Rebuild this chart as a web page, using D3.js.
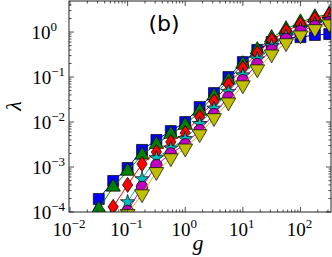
<!DOCTYPE html>
<head>
<script src="https://d3js.org/d3.v7.min.js"></script>
<style>
  body { margin: 0; background: #fff; }
  text { font-family: "Liberation Serif", serif; fill: #000; }
</style>
</head>
<body>
<svg width="332" height="257"></svg>
<script>
// coupling values g = 10^(k/4)
const gValues = [0.0178, 0.0316, 0.0562, 0.1, 0.178, 0.316, 0.562, 1, 1.78, 3.16, 5.62, 10, 17.8, 31.6, 56.2, 100, 178, 316]

const blueSq   = [4.2e-5, 1.95e-4, 4.9e-4, 9.5e-4, 2.4e-3, 4.0e-3, 6.3e-3, 1.0e-2, 2.15e-2, 4.4e-2, 0.1, 0.215, 0.4, 0.6, 0.74, 0.77, 0.86, 0.9]
const greenTri = [2.5e-5, 1.17e-4, 3.6e-4, 8.1e-4, 1.85e-3, 3.2e-3, 5.4e-3, 8.5e-3, 1.75e-2, 3.8e-2, 8.5e-2, 0.195, 0.4, 0.74, 1.17, 1.66, 2.15, 2.5]
const redDia   = [1.5e-5, 3.6e-5, 1.3e-4, 4.0e-4, 1.17e-3, 2.15e-3, 3.6e-3, 5.7e-3, 1.3e-2, 2.9e-2, 6.9e-2, 0.158, 0.34, 0.66, 1.05, 1.5, 1.95, 2.4]
const cyanStar = [5e-6, 1.5e-5, 4.9e-5, 1.66e-4, 5.4e-4, 1.58e-3, 2.6e-3, 4.2e-3, 9.1e-3, 2.0e-2, 4.7e-2, 0.11, 0.25, 0.49, 0.81, 1.17, 1.5, 1.86]
const magCirc  = [3e-6, 9e-6, 3.1e-5, 1.05e-4, 3.6e-4, 1.1e-3, 2.0e-3, 3.2e-3, 6.6e-3, 1.5e-2, 3.6e-2, 8.5e-2, 0.195, 0.4, 0.7, 1.05, 1.35, 1.66]
const yelTri   = [2e-6, 7e-6, 2.6e-5, 9.1e-5, 2.5e-4, 7.8e-4, 1.58e-3, 2.6e-3, 5.4e-3, 1.23e-2, 2.75e-2, 6.6e-2, 0.15, 0.32, 0.57, 0.85, 1.17, 1.5]

const xTicks = [-2, -1, 0, 1, 2]
const yTicks = [-4, -3, -2, -1, 0]

// matplotlib-like thin diamond, a bit taller than wide
const thinDiamond = {
  draw(ctx, size) {
    const h = Math.sqrt(size) * 0.8, w = h * 0.68
    ctx.moveTo(0, -h); ctx.lineTo(w, 0); ctx.lineTo(0, h); ctx.lineTo(-w, 0); ctx.closePath()
  }
}

const series = [
  { vals: blueSq,   color: '#0000ff', sym: d3.symbolSquare,   size: 120, rot: 0 },
  { vals: greenTri, color: '#008000', sym: d3.symbolTriangle, size: 90,  rot: 0 },
  { vals: redDia,   color: '#ff0000', sym: thinDiamond,       size: 90,  rot: 0 },
  { vals: cyanStar, color: '#00bfbf', sym: d3.symbolStar,     size: 65,  rot: 0 },
  { vals: magCirc,  color: '#bf00bf', sym: d3.symbolCircle,   size: 105, rot: 0 },
  { vals: yelTri,   color: '#bfbf00', sym: d3.symbolTriangle, size: 95,  rot: 180 }
]

const pLeft = 69, pRight = 331, pTop = 1, pBottom = 212

const x = d3.scaleLog().domain([0.01, Math.pow(10, 2.53)]).range([pLeft + 1, pRight])
const y = d3.scaleLog().domain([1e-4, Math.pow(10, 0.69)]).range([pBottom, pTop])

const svg = d3.select('svg')

svg.append('clipPath').attr('id', 'clip')
  .append('rect').attr('x', pLeft).attr('y', pTop).attr('width', pRight - pLeft).attr('height', pBottom - pTop)

const plot = svg.append('g').attr('clip-path', 'url(#clip)')

const line = d3.line().x((d, i) => x(gValues[i])).y(d => y(d))

series.forEach(s => {
  plot.append('path')
    .attr('d', line(s.vals))
    .attr('fill', 'none')
    .attr('stroke', s.color)
    .attr('stroke-width', 1)
  plot.selectAll(null).data(s.vals).enter().append('path')
    .attr('d', d3.symbol().type(s.sym).size(s.size))
    .attr('transform', (d, i) => `translate(${x(gValues[i])},${y(d)}) rotate(${s.rot})`)
    .attr('fill', s.color)
    .attr('stroke', '#000')
    .attr('stroke-width', 0.7)
})

// ticks on all four sides, pointing in
const axisG = svg.append('g').attr('stroke', '#222').attr('stroke-width', 0.8)
const minor = [1, 2, 3, 4, 5, 6, 7, 8, 9]
xTicks.concat([3]).forEach(p => {
  minor.forEach(m => {
    const px = x(m * Math.pow(10, p))
    if (px < pLeft || px > pRight) return
    const len = m === 1 ? 5 : 2.5
    axisG.append('line').attr('x1', px).attr('x2', px).attr('y1', pBottom).attr('y2', pBottom - len)
    axisG.append('line').attr('x1', px).attr('x2', px).attr('y1', pTop).attr('y2', pTop + len)
  })
})
yTicks.forEach(p => {
  minor.forEach(m => {
    const py = y(m * Math.pow(10, p))
    if (py < pTop || py > pBottom) return
    const len = m === 1 ? 5 : 2.5
    axisG.append('line').attr('x1', pLeft).attr('x2', pLeft + len).attr('y1', py).attr('y2', py)
    axisG.append('line').attr('x1', pRight).attr('x2', pRight - len).attr('y1', py).attr('y2', py)
  })
})
svg.append('rect').attr('x', pLeft).attr('y', pTop).attr('width', pRight - pLeft).attr('height', pBottom - pTop)
  .attr('fill', 'none').attr('stroke', '#222').attr('stroke-width', 1)

// tick labels
const expLabel = (sel, p) => {
  sel.append('tspan').text('10')
  sel.append('tspan').attr('dy', -8).attr('font-size', 13).text(p < 0 ? '\u2212' + (-p) : p)
}
xTicks.forEach(p => {
  const t = svg.append('text').attr('x', x(Math.pow(10, p)) - 1).attr('y', 236)
    .attr('text-anchor', 'middle').attr('font-size', 19)
  expLabel(t, p)
})
yTicks.forEach(p => {
  const t = svg.append('text').attr('x', p === 0 ? 57 : 65).attr('y', y(Math.pow(10, p)) + 7)
    .attr('text-anchor', 'end').attr('font-size', 19)
  expLabel(t, p)
})

svg.append('text').attr('x', 198).attr('y', 250).attr('text-anchor', 'middle')
  .attr('font-size', 22).attr('font-style', 'italic').text('g')
svg.append('text').attr('transform', 'translate(21,106) rotate(-90)').attr('text-anchor', 'middle')
  .attr('font-size', 22).attr('font-style', 'italic').text('λ')
svg.append('text').attr('x', 164).attr('y', 31).attr('text-anchor', 'middle')
  .style('font-family', '"DejaVu Sans", sans-serif').attr('font-size', 22).text('(b)')
</script>
</body>
